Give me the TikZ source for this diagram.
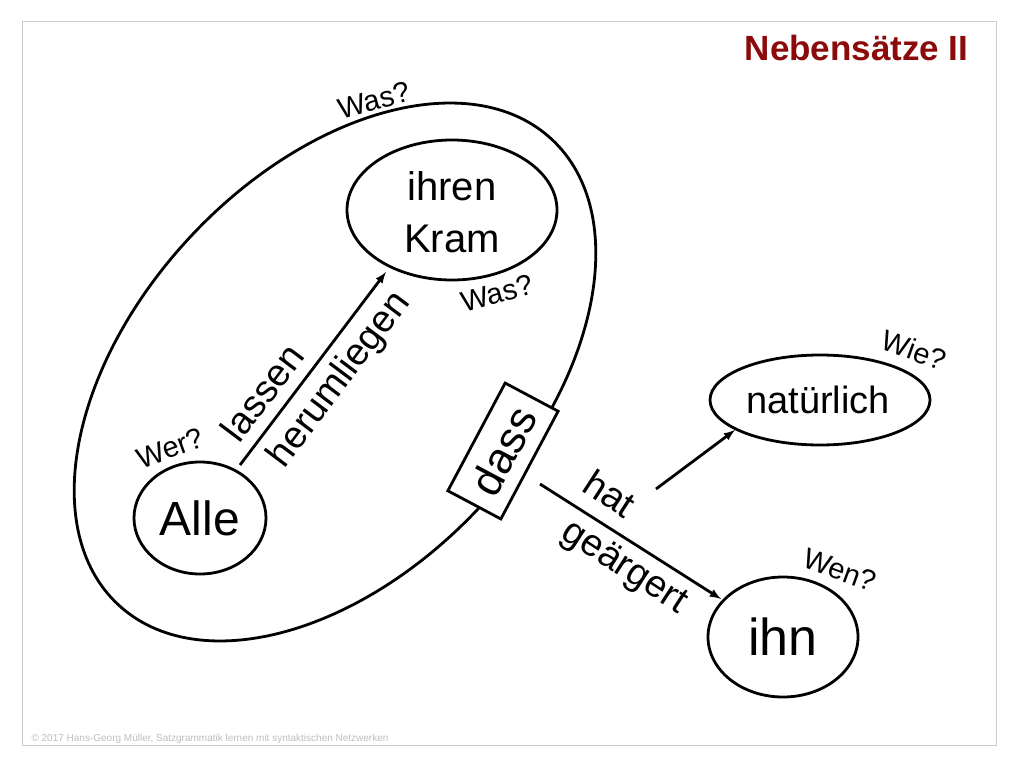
\documentclass[tikz,border=0pt]{standalone}
\usepackage{fontspec}
\setmainfont{Liberation Sans}
\begin{document}
\begin{tikzpicture}[x=1pt,y=-1pt,
  lbl/.style={font=\fontsize{29}{29}\selectfont},
  arr/.style={line width=2.8pt,-latex}]
\useasboundingbox (0,0) rectangle (1024,768);
\fill[white] (0,0) rectangle (1024,768);
\draw[gray!40,line width=1pt] (22,22) rectangle (996,745);
\draw[line width=2.8pt,rotate around={47:(335,372)}] (335,372) ellipse [x radius=318pt,y radius=198pt];
\draw[line width=2.8pt] (452,210) ellipse [x radius=105pt,y radius=70pt];
\node[align=center,font=\fontsize{40}{52}\selectfont] (kram) at (452,212) {ihren\\Kram};
\draw[line width=2.8pt] (200,518) ellipse [x radius=66pt,y radius=56pt];
\node[font=\fontsize{48}{48}\selectfont] (alle) at (200,518) {Alle};
\draw[line width=2.8pt] (820,400) ellipse [x radius=110pt,y radius=45pt];
\node[font=\fontsize{38}{38}\selectfont] (nat) at (818,400) {natürlich};
\draw[line width=2.8pt] (783,637) ellipse [x radius=75pt,y radius=60pt];
\node[font=\fontsize{52}{52}\selectfont] (ihn) at (783,637) {ihn};
\node[draw,line width=2.8pt,fill=white,rotate=62,minimum width=122pt,minimum height=60pt,font=\fontsize{44}{44}\selectfont] (dass) at (503,451) {dass};
\coordinate (a1) at (240,465); \coordinate (a2) at (386,272);
\draw[arr] (a1) -- (a2);
\node[rotate=53,font=\fontsize{38}{38}\selectfont] (l1) at (262,392) {lassen};
\node[rotate=53,font=\fontsize{38}{38}\selectfont] (l2) at (340,380) {herumliegen};
\coordinate (d1) at (540,484); \coordinate (d2) at (721,599);
\draw[arr] (d1) -- (d2);
\node[rotate=-33,font=\fontsize{38}{38}\selectfont] (h1) at (610,493) {hat};
\node[rotate=-33,font=\fontsize{38}{38}\selectfont] (h2) at (624,568) {geärgert};
\coordinate (n1) at (656,489); \coordinate (n2) at (735,430);
\draw[arr] (n1) -- (n2);
\node[lbl,rotate=15] (q1) at (374,100) {Was?};
\node[lbl,rotate=15] (q2) at (497,293) {Was?};
\node[lbl,rotate=20] (q3) at (170,448) {Wer?};
\node[lbl,rotate=-20] (q4) at (914,350) {Wie?};
\node[lbl,rotate=-20] (q5) at (840,570) {Wen?};
\node[font=\bfseries\fontsize{35}{35}\selectfont,text={rgb,255:red,140;green,10;blue,10},anchor=east] (t) at (972,48) {Nebensätze II};
\node[font=\fontsize{10}{10}\selectfont,text=gray!50,anchor=west] (f) at (28,739) {© 2017 Hans-Georg Müller, Satzgrammatik lernen mit syntaktischen Netzwerken};
\end{tikzpicture}
\end{document}
